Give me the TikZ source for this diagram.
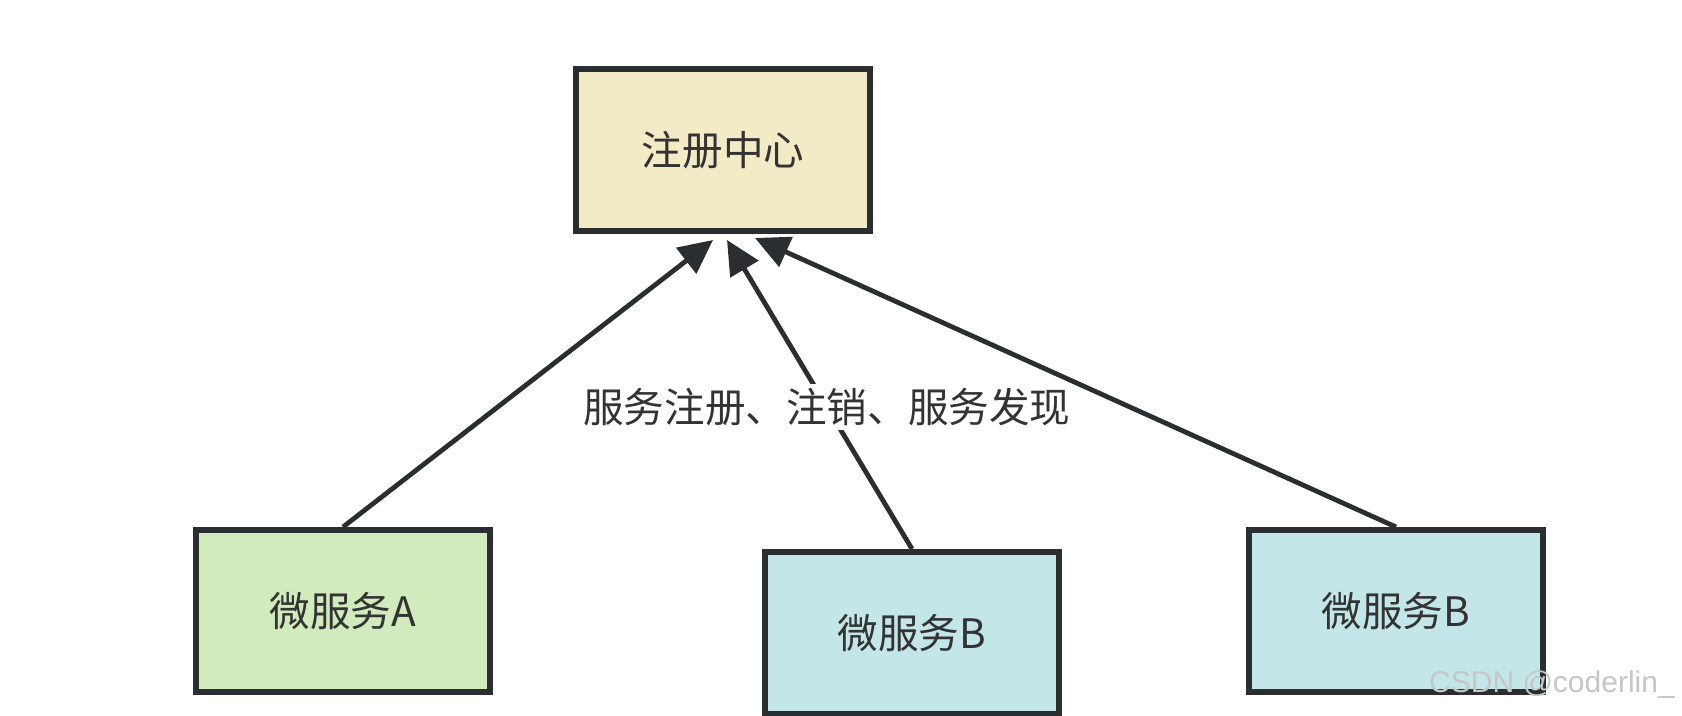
\documentclass[tikz,border=0pt]{standalone}
\usepackage{fontspec}
\usetikzlibrary{arrows.meta}
\newfontfamily\cjk{Noto Sans CJK SC}
\newfontfamily\wmark{Liberation Sans}
\definecolor{edge}{HTML}{2B2E31}
\definecolor{regfill}{HTML}{F2EBC5}
\definecolor{afill}{HTML}{D1EBBD}
\definecolor{bfill}{HTML}{C3E7E9}
\definecolor{ink}{HTML}{333333}

\begin{document}
\begin{tikzpicture}[x=0.5pt, y=-0.5pt,
  box/.style={draw=edge, line width=3pt, minimum width=147pt, minimum height=81pt,
              font=\cjk\fontsize{20.3}{23}\selectfont, text=ink},
  lbl/.style={fill=white, inner sep=2pt, font=\cjk\fontsize{20.3}{23}\selectfont, text=ink},
  arr/.style={-{Triangle[length=17pt,width=16pt]}, draw=edge, line width=2.4pt}]
\useasboundingbox (0,0) rectangle (1682,716);
\node[box, fill=regfill] (reg) at (723,150) {注册中心};
\foreach \n/\c/\px/\py/\l in
  {svcA/afill/343/611/微服务A, svcB/bfill/912/633/微服务B, svcC/bfill/1396/611/微服务B}
  \node[box, fill=\c] (\n) at (\px,\py) {\l};
\draw[arr] (svcA.north) -- ([xshift=-5pt,yshift=-3pt]reg.south);
\draw[arr] (svcB.north) -- node[lbl, pos=0.46] (ops) {服务注册、注销、服务发现}
  ([xshift=2pt,yshift=-3pt]reg.south);
\draw[arr] (svcC.north) -- ([xshift=16pt,yshift=-2pt]reg.south);
\node[font=\wmark\fontsize{15}{18}\selectfont, text=gray!45] (wm) at (1552,685) {CSDN @coderlin\_};
\end{tikzpicture}
\end{document}
